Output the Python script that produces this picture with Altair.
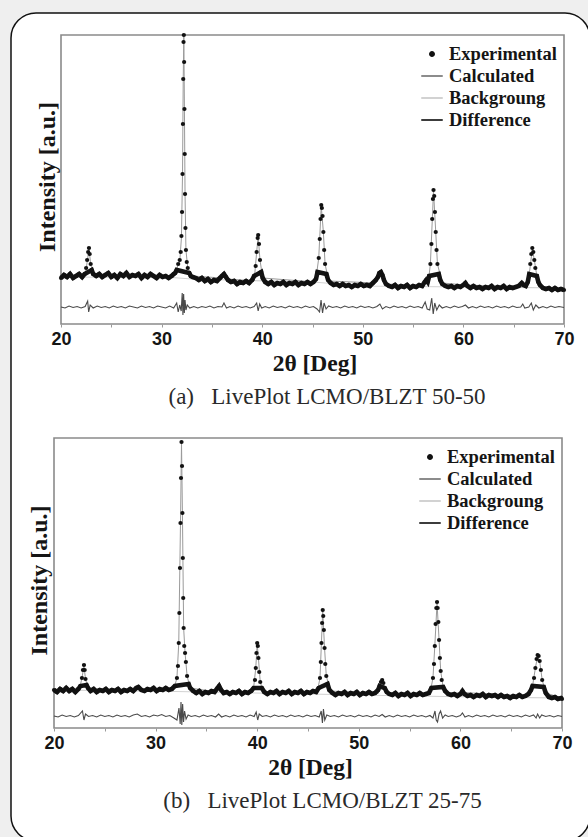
import altair as alt
import pandas as pd

SERIES = ["Experimental", "Calculated", "Backgroung", "Difference"]
SERIES_COLORS = ["#111111", "#8c8c8c", "#d2d2d2", "#3c3c3c"]
SERIES_SHAPES = ["M0,-0.186A0.186,0.186 0 1,1 0,0.186A0.186,0.186 0 1,1 0,-0.186Z"
                 "M0,-0.093A0.093,0.093 0 1,1 0,0.093A0.093,0.093 0 1,1 0,-0.093Z",
                 "M-1,0H1", "M-1,0H1", "M-1,0H1"]
X_TICKS = [20, 25, 30, 35, 40, 45, 50, 55, 60, 65, 70]
CAPTION_A = "(a)\u00a0\u00a0\u00a0LivePlot LCMO/BLZT 50-50"
CAPTION_B = "(b)\u00a0\u00a0\u00a0LivePlot LCMO/BLZT 25-75"

# ---------------- panel (a) LCMO/BLZT 50-50 ----------------
a_exp_theta = [20.0, 20.3, 20.6, 20.9, 21.2, 21.5, 21.8, 22.1,
               22.35, 22.5, 22.6, 22.7, 22.78, 22.85, 22.95, 23.05, 23.2,
               23.5, 23.8, 24.1, 24.4, 24.7, 25.0, 25.3, 25.6, 25.9, 26.2, 26.5, 26.8, 27.1, 27.4, 27.7,
               28.0, 28.3, 28.6, 28.9, 29.2, 29.5, 29.8, 30.1, 30.4, 30.7, 31.0, 31.2, 31.35,
               31.5, 31.65, 31.8, 31.9, 31.97, 32.03, 32.08, 32.12, 32.15, 32.18, 32.21, 32.24, 32.27,
               32.3, 32.33, 32.37, 32.42, 32.5, 32.6, 32.75, 32.9,
               33.1, 33.4, 33.7, 34.0, 34.3, 34.6, 34.9, 35.2, 35.5, 35.8, 36.0, 36.2, 36.4, 36.6, 36.9,
               37.2, 37.5, 37.8, 38.1, 38.4, 38.7, 39.0,
               39.2, 39.35, 39.45, 39.55, 39.6, 39.68, 39.78, 39.9, 40.05,
               40.3, 40.6, 40.9, 41.2, 41.5, 41.8, 42.1, 42.4, 42.7, 43.0, 43.3, 43.6, 43.9, 44.2, 44.5,
               44.8, 45.1, 45.35,
               45.5, 45.62, 45.72, 45.8, 45.87, 45.93, 46.0, 46.08, 46.16, 46.25, 46.38, 46.55,
               46.8, 47.1, 47.4, 47.7, 48.0, 48.3, 48.6, 48.9, 49.2, 49.5, 49.8, 50.1, 50.4, 50.7, 51.0, 51.3,
               51.5, 51.65, 51.8, 51.95, 52.1, 52.3,
               52.6, 52.9, 53.2, 53.5, 53.8, 54.1, 54.4, 54.7, 55.0, 55.3, 55.6, 55.9, 56.15, 56.3, 56.45, 56.6,
               56.72, 56.82, 56.9, 56.97, 57.03, 57.1, 57.17, 57.25, 57.33, 57.42, 57.55, 57.7, 57.9,
               58.2, 58.5, 58.8, 59.1, 59.4, 59.7, 60.0, 60.2, 60.4, 60.7, 61.0, 61.3, 61.6, 61.9, 62.2,
               62.5, 62.8, 63.1, 63.4, 63.7, 64.0, 64.3, 64.6, 64.9, 65.2, 65.5, 65.8, 66.0, 66.2, 66.4,
               66.55, 66.65, 66.75, 66.85, 66.95, 67.05, 67.15, 67.3, 67.45, 67.6,
               67.9, 68.2, 68.5, 68.8, 69.1, 69.4, 69.7, 70.0]
a_exp_int = [46, 49, 47, 50, 46, 48, 50, 47,
             50, 56, 64, 72, 76, 70, 60, 54, 50,
             48, 50, 47, 49, 51, 47, 49, 46, 50, 48, 51, 47, 49, 48, 50,
             46, 49, 47, 50, 48, 46, 49, 47, 48, 46, 48, 50, 51,
             54, 60, 64, 72, 88, 112, 150, 200, 245, 282, 289, 262, 215,
             170, 130, 96, 74, 62, 56, 51, 48,
             47, 46, 44, 46, 43, 45, 42, 44, 43, 46, 48, 50, 47, 44, 42,
             43, 40, 42, 41, 43, 41, 44,
             48, 58, 72, 86, 89, 80, 64, 52, 46,
             42, 40, 42, 39, 41, 40, 42, 39, 41, 40, 42, 39, 41, 40, 42,
             40, 42, 45,
             52, 66, 85, 105, 119, 116, 108, 92, 74, 60, 50, 44,
             41, 39, 40, 38, 40, 38, 39, 37, 39, 38, 40, 38, 39, 38, 41, 44,
             47, 51, 52, 49, 44, 40,
             38, 37, 39, 36, 38, 37, 39, 36, 38, 37, 39, 38, 42, 44, 42, 48,
             60, 80, 105, 125, 134, 128, 112, 92, 74, 60, 50, 44, 40,
             38, 37, 38, 36, 38, 37, 39, 41, 38, 36, 38, 36, 37, 35, 37,
             36, 38, 35, 37, 36, 38, 35, 37, 36, 37, 38, 41, 39, 38, 42,
             50, 60, 70, 76, 72, 64, 56, 48, 42, 39,
             36, 35, 36, 34, 36, 34, 35, 34]

a_calc_theta = [20.0, 22.4, 22.6, 22.78, 22.95, 23.2, 31.3, 31.6, 31.8, 31.97, 32.08, 32.15, 32.21,
                32.27, 32.33, 32.42, 32.6, 33.0, 36.0, 36.2, 36.5, 39.2, 39.45, 39.6, 39.78, 40.05,
                45.3, 45.62, 45.87, 46.08, 46.25, 46.6, 51.3, 51.8, 52.3, 56.1, 56.3, 56.5, 56.72,
                57.03, 57.25, 57.42, 57.9, 60.2, 66.3, 66.55, 66.85, 67.05, 67.3, 67.6, 68.2, 70.0]
a_calc_int = [47.5, 48, 62, 75, 60, 49, 48.5, 58, 62, 86, 150, 245, 288,
              215, 130, 74, 56, 48, 46, 49, 45, 43, 72, 88, 64, 46,
              42, 66, 118, 92, 60, 43, 41, 52, 40, 38, 43, 41, 60,
              133, 92, 60, 41, 39, 37, 50, 75, 64, 48, 39, 36, 35]

a_bg_theta = [20, 31, 33, 45, 50, 60, 70]
a_bg_int = [47, 46.5, 45, 42, 38, 37, 36]

a_diff_theta = [20.0, 20.4, 20.8, 21.2, 21.6, 22.0, 22.4, 22.65, 22.75, 22.9, 23.2, 23.6, 24.0, 24.4,
                24.8, 25.2, 25.6, 26.0, 26.4, 26.8, 27.2, 27.6, 28.0, 28.4, 28.8, 29.2, 29.6, 30.0,
                30.4, 30.8, 31.2, 31.5, 31.65, 31.8, 31.95, 32.05, 32.12, 32.19, 32.26, 32.33, 32.42,
                32.55, 32.8, 33.2, 33.6, 34.0, 34.4, 34.8, 35.2, 35.6, 36.0, 36.2, 36.45, 36.8, 37.2,
                37.6, 38.0, 38.4, 38.8, 39.2, 39.45, 39.6, 39.75, 39.95, 40.3, 40.7, 41.1, 41.5, 41.9,
                42.3, 42.7, 43.1, 43.5, 43.9, 44.3, 44.7, 45.1, 45.45, 45.7, 45.85, 46.0, 46.15, 46.35,
                46.6, 47.0, 47.4, 47.8, 48.2, 48.6, 49.0, 49.4, 49.8, 50.2, 50.6, 51.0, 51.4, 51.7,
                51.95, 52.3, 52.7, 53.1, 53.5, 53.9, 54.3, 54.7, 55.1, 55.5, 55.9, 56.2, 56.4, 56.65,
                56.85, 57.0, 57.15, 57.35, 57.6, 57.9, 58.3, 58.7, 59.1, 59.5, 59.9, 60.2, 60.5, 60.9,
                61.3, 61.7, 62.1, 62.5, 62.9, 63.3, 63.7, 64.1, 64.5, 64.9, 65.3, 65.7, 65.9, 66.1,
                66.5, 66.75, 66.95, 67.2, 67.5, 67.9, 68.3, 68.7, 69.1, 69.5, 70.0]
a_diff_int = [17, 16, 18, 16.5, 17.5, 16, 17.5, 23, 12, 19, 16, 18, 16.5, 17.5,
              16, 18, 16.5, 17.5, 16, 18, 17, 16, 18, 16.5, 17.5, 16, 18, 17,
              16, 18, 16, 21, 12, 19, 13, 31, 9, 30, 11, 24, 14,
              19, 16, 17.5, 16, 17.5, 16.5, 18, 16, 17.5, 17, 21, 16, 17.5, 16,
              18, 16.5, 17.5, 16, 17.5, 21, 13, 20, 16, 17.5, 16, 18, 16.5, 17.5,
              16, 18, 16.5, 17.5, 16, 18, 16.5, 17.5, 15, 12, 24, 11, 21, 15,
              18, 16.5, 17.5, 16, 18, 16.5, 17.5, 16, 18, 16.5, 17.5, 16, 17.5, 20,
              15, 17.5, 16, 18, 16.5, 17.5, 16, 18, 16.5, 17.5, 16, 22, 15, 14,
              26, 10, 21, 14, 19, 16, 17.5, 16, 18, 16.5, 17.5, 19, 16, 17.5,
              16, 18, 16.5, 17.5, 16, 18, 16.5, 17.5, 16, 18, 16.5, 17, 20, 16,
              17, 21, 14, 19, 16, 17.5, 16, 18, 16.5, 17.5, 16.5]

# ---------------- panel (b) LCMO/BLZT 25-75 ----------------
b_exp_theta = [20.0, 20.3, 20.6, 20.9, 21.2, 21.5, 21.8, 22.1, 22.4,
               22.6, 22.75, 22.85, 22.95, 23.02, 23.1, 23.2, 23.35,
               23.6, 23.9, 24.2, 24.5, 24.8, 25.1, 25.4, 25.7, 26.0, 26.3, 26.6, 26.9, 27.2, 27.5, 27.8,
               28.1, 28.3, 28.6, 28.9, 29.2, 29.5, 29.8, 30.1, 30.4, 30.7, 31.0, 31.3, 31.6, 31.9,
               32.1, 32.2, 32.28, 32.34, 32.4, 32.45, 32.5, 32.55, 32.6, 32.64, 32.68, 32.72, 32.76,
               32.82, 32.9, 32.98, 33.1, 33.25, 33.4,
               33.7, 34.0, 34.3, 34.6, 34.9, 35.2, 35.5, 35.8, 36.1, 36.25, 36.45, 36.7, 37.0, 37.3,
               37.6, 37.9, 38.2, 38.5, 38.8, 39.1, 39.4, 39.65,
               39.78, 39.86, 39.93, 40.0, 40.06, 40.12, 40.2, 40.3, 40.45,
               40.7, 41.0, 41.3, 41.6, 41.9, 42.2, 42.5, 42.8, 43.1, 43.4, 43.7, 44.0, 44.3, 44.6, 44.9,
               45.2, 45.5, 45.8, 46.05,
               46.18, 46.26, 46.33, 46.39, 46.45, 46.5, 46.56, 46.63, 46.7, 46.8, 46.92, 47.1,
               47.4, 47.7, 48.0, 48.3, 48.6, 48.9, 49.2, 49.5, 49.8, 50.1, 50.4, 50.7, 51.0, 51.3, 51.6, 51.9,
               52.05, 52.18, 52.3, 52.42, 52.55, 52.75,
               53.0, 53.3, 53.6, 53.9, 54.2, 54.5, 54.8, 55.1, 55.4, 55.7, 56.0, 56.3, 56.6, 56.9, 57.15,
               57.3, 57.4, 57.48, 57.56, 57.63, 57.7, 57.76, 57.83, 57.9, 57.98, 58.06, 58.16, 58.3, 58.5,
               58.8, 59.1, 59.4, 59.7, 60.0, 60.2, 60.4, 60.7, 61.0, 61.3, 61.6, 61.9, 62.2, 62.5, 62.8,
               63.1, 63.4, 63.7, 64.0, 64.3, 64.6, 64.9, 65.2, 65.5, 65.8, 66.1, 66.4, 66.7, 66.95,
               67.1, 67.25, 67.38, 67.5, 67.6, 67.7, 67.8, 67.92, 68.05, 68.2, 68.4,
               68.7, 69.0, 69.3, 69.6, 69.9, 70.0]
b_exp_int = [38, 36, 39, 37, 40, 37, 39, 36, 39,
             42, 50, 58, 63, 58, 49, 43, 40,
             37, 39, 36, 38, 37, 39, 36, 38, 37, 39, 36, 38, 37, 39, 37,
             40, 41, 38, 37, 39, 38, 40, 37, 39, 38, 40, 38, 39, 42,
             50, 62, 85, 115, 160, 205, 250, 286, 262, 215, 170, 130, 100,
             82, 75, 66, 52, 44, 40,
             37, 35, 37, 34, 36, 35, 37, 36, 40, 42, 38, 35, 36, 34,
             36, 35, 37, 34, 36, 35, 37, 40,
             48, 60, 75, 85, 82, 70, 56, 46, 40,
             36, 34, 36, 35, 37, 34, 36, 35, 37, 34, 36, 35, 37, 34, 36,
             35, 37, 36, 40,
             50, 66, 85, 105, 118, 112, 98, 80, 64, 52, 44, 38,
             35, 33, 35, 34, 36, 33, 35, 34, 36, 33, 35, 34, 36, 34, 35, 38,
             42, 46, 48, 45, 40, 36,
             34, 33, 35, 32, 34, 33, 35, 32, 34, 33, 35, 33, 34, 35, 40,
             50, 64, 82, 104, 120, 126, 120, 106, 88, 70, 57, 48, 41, 37,
             34, 33, 34, 32, 34, 37, 34, 32, 33, 31, 33, 32, 34, 31, 33,
             32, 33, 31, 33, 31, 32, 30, 32, 31, 33, 31, 32, 34, 38,
             42, 50, 60, 69, 73, 72, 67, 58, 48, 41, 35,
             31, 30, 31, 29, 30, 29]

b_calc_theta = [20.0, 22.5, 22.75, 22.95, 23.1, 23.35, 28.1, 28.3, 28.5, 31.8, 32.1, 32.28, 32.45,
                32.55, 32.64, 32.76, 32.9, 33.1, 33.4, 36.0, 36.25, 36.5, 39.6, 39.86, 40.0, 40.12,
                40.3, 40.6, 45.9, 46.18, 46.45, 46.63, 46.8, 47.2, 51.9, 52.3, 52.75, 57.0, 57.3,
                57.48, 57.7, 57.9, 58.06, 58.3, 58.7, 60.2, 66.8, 67.1, 67.38, 67.6, 67.8, 68.05,
                68.4, 70.0]
b_calc_int = [38, 38.5, 50, 62, 49, 39.5, 38.5, 40, 38.5, 39, 50, 85, 205,
              285, 215, 100, 75, 52, 40, 36, 41, 36, 36, 60, 84, 70,
              46, 36, 35.5, 50, 117, 80, 52, 37, 34.5, 47, 35, 34, 50,
              82, 125, 88, 57, 41, 34, 35.5, 32, 42, 60, 72, 67, 48,
              35, 30]

b_bg_theta = [20, 32, 45, 55, 62, 70]
b_bg_int = [38, 36.5, 34, 32, 31, 30]

b_diff_theta = [20.0, 20.4, 20.8, 21.2, 21.6, 22.0, 22.4, 22.8, 22.95, 23.1, 23.4, 23.8, 24.2, 24.6,
                25.0, 25.4, 25.8, 26.2, 26.6, 27.0, 27.4, 27.8, 28.2, 28.6, 29.0, 29.4, 29.8, 30.2,
                30.6, 31.0, 31.4, 31.8, 32.1, 32.3, 32.42, 32.5, 32.58, 32.66, 32.75, 32.85, 33.0,
                33.2, 33.5, 33.9, 34.3, 34.7, 35.1, 35.5, 35.9, 36.2, 36.5, 36.9, 37.3, 37.7, 38.1,
                38.5, 38.9, 39.3, 39.7, 39.9, 40.05, 40.2, 40.5, 40.9, 41.3, 41.7, 42.1, 42.5, 42.9,
                43.3, 43.7, 44.1, 44.5, 44.9, 45.3, 45.7, 46.1, 46.3, 46.42, 46.52, 46.65, 46.85,
                47.2, 47.6, 48.0, 48.4, 48.8, 49.2, 49.6, 50.0, 50.4, 50.8, 51.2, 51.6, 52.0, 52.3,
                52.6, 53.0, 53.4, 53.8, 54.2, 54.6, 55.0, 55.4, 55.8, 56.2, 56.6, 57.0, 57.3, 57.5,
                57.62, 57.75, 57.9, 58.05, 58.25, 58.5, 58.8, 59.2, 59.6, 60.0, 60.2, 60.45, 60.8,
                61.2, 61.6, 62.0, 62.4, 62.8, 63.2, 63.6, 64.0, 64.4, 64.8, 65.2, 65.6, 66.0, 66.4,
                66.8, 67.2, 67.45, 67.6, 67.8, 68.0, 68.4, 68.8, 69.2, 69.6, 70.0]
b_diff_int = [12, 11, 13, 11.5, 12.5, 11, 12.5, 17, 8, 14, 11.5, 12.5, 11, 13,
              11.5, 12.5, 11, 13, 11.5, 12.5, 11, 13, 14, 11.5, 12.5, 11, 13, 12,
              13.5, 11.5, 12.5, 10, 8, 20, 4, 26, 3, 24, 6, 17, 9,
              13, 11.5, 12.5, 11, 13, 11.5, 12.5, 11, 14, 11, 12.5, 11, 13, 11.5,
              12.5, 11, 13, 11.5, 16, 8, 14, 11.5, 12.5, 11, 13, 11.5, 12.5, 11,
              13, 11.5, 12.5, 11, 13, 11.5, 12.5, 11, 17, 5, 19, 8, 13,
              11.5, 12.5, 11, 13, 11.5, 12.5, 11, 13, 11.5, 12.5, 11, 13, 11.5, 13.5,
              11, 12.5, 11, 13, 11.5, 12.5, 11, 13, 11.5, 12.5, 11, 12.5, 10, 17,
              8, 6, 14, 17, 10, 13, 11.5, 12.5, 11, 12.5, 15, 11, 12.5,
              11, 13, 11.5, 12.5, 11, 13, 11.5, 12.5, 11, 13, 11.5, 12.5, 11, 13,
              11.5, 13, 10, 14, 10, 13, 11.5, 12.5, 11, 12.5, 11.5]

SERIF = "Liberation Serif"
SANS = "Liberation Sans"


def xy(theta, inten):
    return pd.DataFrame({"theta": theta, "I": inten})


def panel(exp_t, exp_i, calc_t, calc_i, bg_t, bg_i, diff_t, diff_i, w, h, x0, caption,
          top_panel, band_max, ytitle_x):
    xs = alt.Scale(domain=[20, 70], range=[x0, w], nice=False, zero=False)
    ys = alt.Scale(domain=[0, h], nice=False, zero=False)
    x_axis = alt.Axis(values=X_TICKS, labelExpr="datum.value % 10 === 0 ? datum.label : ''",
                      title="2\u03b8 [Deg]", titleFont=SERIF, titleFontWeight="bold", titleFontSize=23.5,
                      titleColor="#151515", titlePadding=3, titleX=(x0 + w) / 2 + 2,
                      labelFont=SANS, labelFontWeight="bold", labelFontSize=18, labelColor="#151515",
                      labelFlush=False, labelOverlap=False, labelPadding=3,
                      tickSize=3, tickColor="#9a9a9a", domain=False, grid=False, zindex=1)
    cap_axis = alt.Axis(title=caption, titleFont=SERIF, titleFontWeight="normal", titleFontSize=23,
                        titleColor="#2a2a2a", titlePadding=0, titleX=(x0 + w) / 2 + 14,
                        orient="bottom", offset=61, labels=False, ticks=False, domain=False,
                        grid=False, zindex=1)
    y_axis = alt.Axis(title="Intensity [a.u.]", titleFont=SERIF, titleFontWeight="bold", titleFontSize=24,
                      titleColor="#151515", titleBaseline="middle", titleX=ytitle_x,
                      labels=False, ticks=False, domain=False,
                      grid=False, zindex=1, titleY=h / 2 - 3)
    X = alt.X("theta:Q", scale=xs, axis=x_axis)
    Xc = alt.X("theta:Q", scale=xs, axis=cap_axis)
    Y = alt.Y("I:Q", scale=ys, axis=y_axis)
    Xn = alt.X("theta:Q", scale=xs, axis=None)
    Yn = alt.Y("I:Q", scale=ys)

    one = pd.DataFrame({"k": [0]})
    exp_df = xy(exp_t, exp_i)
    layers = []
    if top_panel:
        layers.append(alt.Chart(one).mark_rect(fill="#ffffff", stroke="#111111", strokeWidth=1.5,
                                               cornerRadius=25).encode(
            x=alt.value(-43), x2=alt.value(536), y=alt.value(-22), y2=alt.value(806)))
    layers.append(alt.Chart(one).mark_rect(fill="transparent", stroke="#8a8a8a", strokeWidth=1.6).encode(
        x=alt.value(x0), x2=alt.value(w), y=alt.value(0), y2=alt.value(h)))
    layers.append(alt.Chart(xy(bg_t, bg_i)).mark_line(color="#d2d2d2", strokeWidth=1.2).encode(x=X, y=Y))
    layers.append(alt.Chart(xy(calc_t, calc_i)).mark_line(color="#9a9a9a", strokeWidth=1).encode(x=Xn, y=Yn))
    layers.append(alt.Chart(exp_df).transform_filter(alt.datum.I <= band_max).mark_line(
        color="#151515", strokeWidth=4.6).encode(x=Xn, y=Yn))
    layers.append(alt.Chart(exp_df).mark_circle(size=18, color="#111111", opacity=1).encode(x=Xn, y=Yn))
    layers.append(alt.Chart(xy(diff_t, diff_i)).mark_line(color="#4a4a4a", strokeWidth=1.1).encode(x=Xc, y=Yn))

    legend = alt.Legend(title=None, orient="top-right", offset=7, padding=0, rowPadding=0,
                        labelFont=SERIF, labelFontWeight="bold", labelFontSize=18.5, labelColor="#151515",
                        labelOffset=5, symbolSize=462, symbolOpacity=1, symbolStrokeWidth=2)
    layers.append(alt.Chart(pd.DataFrame({"series": SERIES})).mark_point(opacity=0, filled=False).encode(
        color=alt.Color("series:N", scale=alt.Scale(domain=SERIES, range=SERIES_COLORS), legend=legend),
        shape=alt.Shape("series:N", scale=alt.Scale(domain=SERIES, range=SERIES_SHAPES), legend=legend)))

    return alt.layer(*layers).resolve_axis(x="independent").properties(width=w, height=h)


top = panel(a_exp_theta, a_exp_int, a_calc_theta, a_calc_int, a_bg_theta, a_bg_int,
            a_diff_theta, a_diff_int, 510, 289, 7, CAPTION_A, True, 54, -7)
bottom = panel(b_exp_theta, b_exp_int, b_calc_theta, b_calc_int, b_bg_theta, b_bg_int,
               b_diff_theta, b_diff_int, 508, 290, 0, CAPTION_B, False, 44, -15)

chart = alt.vconcat(top, bottom, spacing=114, bounds="flush").resolve_scale(
    color="independent", shape="independent").resolve_legend(
    color="independent", shape="independent").properties(
    autosize=alt.AutoSizeParams(type="none"),
    padding={"left": 54, "top": 35, "right": 534, "bottom": 802},
    background="#efefef",
).configure_view(stroke="transparent")

chart.save("out.html", embed_options={"renderer": "svg", "actions": False})
